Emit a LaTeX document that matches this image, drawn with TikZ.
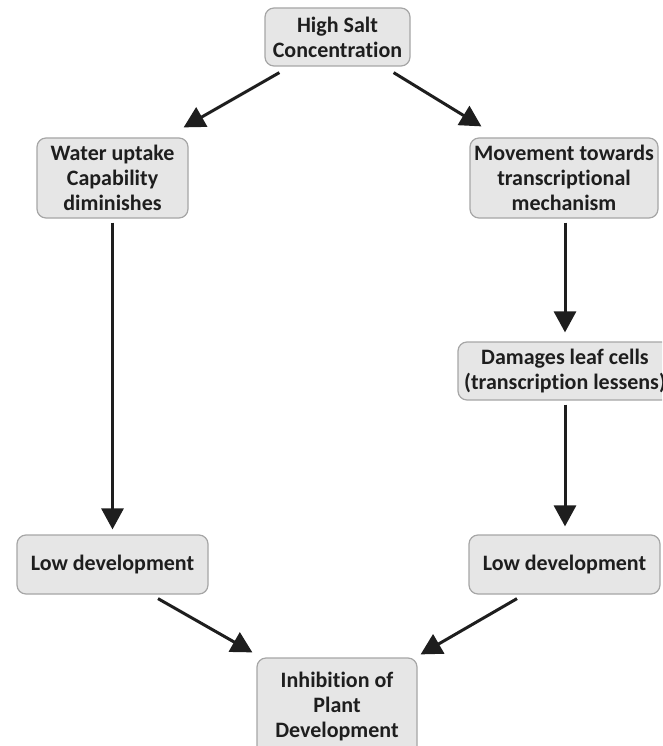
\documentclass[tikz,border=0pt]{standalone}
\usepackage{fontspec}
\setmainfont{Carlito}[Ligatures=NoCommon]
\usetikzlibrary{arrows.meta,calc}
\definecolor{boxfill}{HTML}{E6E6E6}
\definecolor{boxline}{HTML}{A6A6A6}
\definecolor{ink}{HTML}{1E1E1E}
\tikzset{
  stagebox/.style={draw=boxline, line width=1.2pt, fill=boxfill, rounded corners=9pt,
    text=ink, align=center, inner sep=0pt,
    font=\fontsize{22}{25}\selectfont\bfseries},
  flow/.style={draw=ink, line width=3pt,
    -{Triangle[length=21pt,width=22pt]}}
}
\begin{document}
\begin{tikzpicture}[x=1pt,y=-1pt]
  \useasboundingbox (0,0) rectangle (662,746);
  \clip (0,0) rectangle (662,746);
  % stages of the salt-stress pathway
  \node[stagebox, minimum width=145pt, minimum height=58pt] (salt) at (337.5,37) {High Salt\\Concentration};
  \node[stagebox, minimum width=151pt, minimum height=80pt] (water) at (112.5,178) {Water uptake\\Capability\\diminishes};
  \node[stagebox, minimum width=188pt, minimum height=80pt] (move) at (564,178) {Movement towards\\transcriptional\\mechanism};
  \node[stagebox, minimum width=214pt, minimum height=58pt] (leaf) at (565,371) {Damages leaf cells\\(transcription lessens)};
  \node[stagebox, minimum width=191pt, minimum height=59pt] (lowL) at (112.5,564.5) {Low development};
  \node[stagebox, minimum width=191pt, minimum height=59pt] (lowR) at (564.5,564.5) {Low development};
  \node[stagebox, minimum width=160pt, minimum height=98pt] (inhib) at (337,707) {Inhibition of\\Plant\\Development};
  % connectors
  \draw[flow] ($(salt.south west)+(15,6)$) -- ($(water.north east)+(-5,-10)$);
  \draw[flow] ($(salt.south east)+(-17,6)$) -- ($(move.north west)+(12,-11)$);
  \draw[flow] ($(water.south)+(0,4)$) -- ($(lowL.north)+(0,-5)$);
  \draw[flow] ($(move.south)+(1,4)$) -- ($(leaf.north)+(0,-9)$);
  \draw[flow] ($(leaf.south)+(0,4)$) -- ($(lowR.north)+(0.5,-8)$);
  \draw[flow] ($(lowL.south)+(45.5,4)$) -- ($(inhib.north west)+(-4,-5)$);
  \draw[flow] ($(lowR.south)+(-47.5,4)$) -- ($(inhib.north east)+(3,-3)$);
\end{tikzpicture}
\end{document}
